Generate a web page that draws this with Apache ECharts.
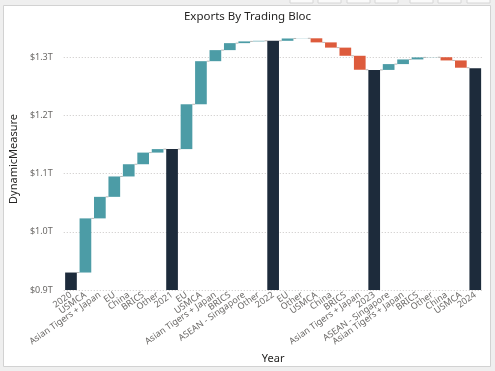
<!DOCTYPE html>
<html><head><meta charset="utf-8">
<script src="https://cdn.jsdelivr.net/npm/echarts@6/dist/echarts.min.js"></script>
<style>html,body{margin:0;padding:0;background:#efefef}#c{width:495px;height:371px}</style>
</head><body><div id="c"></div>
<script>
const categories = ['2020','USMCA','Asian Tigers + Japan','EU','China','BRICS','Other','2021','EU','USMCA','Asian Tigers + Japan','BRICS','ASEAN - Singapore','Other','2022','EU','Other','USMCA','China','BRICS','Asian Tigers + Japan','2023','ASEAN - Singapore','Asian Tigers + Japan','BRICS','Other','China','USMCA','2024'];
const barKinds = ['total','delta','delta','delta','delta','delta','delta','total','delta','delta','delta','delta','delta','delta','total','delta','delta','delta','delta','delta','delta','total','delta','delta','delta','delta','delta','delta','total'];
// totals (year bars) and changes, in trillions of dollars
const amounts = [0.930,0.093,0.037,0.035,0.021,0.020,0.006,1.142,0.077,0.074,0.019,0.012,0.003,0.001,1.328,0.004,0.0003,-0.007,-0.009,-0.014,-0.024,1.278,0.010,0.008,0.0035,0.0003,-0.0055,-0.0125,1.281];
const yTicks = [0.9,1.0,1.1,1.2,1.3];

const baseVals=[], upVals=[], downVals=[], totalVals=[], connectors=[];
let level = 0;
amounts.forEach((a,i)=>{
  if (barKinds[i]==='total'){
    baseVals.push(0); upVals.push('-'); downVals.push('-'); totalVals.push(a); level=a;
  } else {
    const end = level + a;
    baseVals.push(Math.min(level,end));
    upVals.push(a>0?a:'-'); downVals.push(a<0?-a:'-'); totalVals.push('-');
    level = end;
  }
  if (i < amounts.length-1) connectors.push([i, level]);
});

const chart = echarts.init(document.getElementById('c'), null, {renderer:'canvas'});
const FONT = 'Noto Sans';
const iconRects = [290,318,347,375,410,438,467].map(x=>({type:'rect',shape:{x:x,y:-2,width:23,height:5},style:{fill:'#fafafa',stroke:'#d6d6d6',lineWidth:1},z:-1}));
chart.setOption({
  backgroundColor:'#efefef',
  animation:false,
  graphic:[
    {type:'rect',shape:{x:3.5,y:5.5,width:487,height:361},style:{fill:'#ffffff',stroke:'#d2d2d2',lineWidth:1},z:-2},
    ...iconRects
  ],
  title:{text:'Exports By Trading Bloc',left:'center',top:6,textStyle:{fontFamily:FONT,fontSize:11.5,fontWeight:'normal',color:'#252423'}},
  grid:{left:52,right:12.5,top:28,bottom:81,containLabel:false},
  xAxis:{type:'category',data:categories,name:'Year',nameLocation:'middle',nameGap:63,
    nameTextStyle:{fontFamily:FONT,fontSize:11,color:'#252423'},
    axisLine:{show:false},axisTick:{show:false},
    axisLabel:{interval:0,rotate:35,fontFamily:FONT,fontSize:9,color:'#6b6967',margin:4}},
  yAxis:{type:'value',min:0.9,max:1.35,interval:0.1,name:'DynamicMeasure',nameLocation:'middle',nameGap:36,
    nameTextStyle:{fontFamily:FONT,fontSize:11,color:'#252423'},
    axisLine:{show:false},axisTick:{show:false},splitLine:{show:false},
    axisLabel:{showMaxLabel:false,fontFamily:FONT,fontSize:9,color:'#6b6967',margin:11,formatter:v=>'$'+v.toFixed(1)+'T'}},
  series:[
    {type:'bar',stack:'wf',data:baseVals,barWidth:'81%',clip:true,z:1,itemStyle:{color:'rgba(0,0,0,0)'},
     markLine:{silent:true,symbol:'none',z:0,label:{show:false},lineStyle:{type:[1,2],color:'#c8c6c4',width:1},data:yTicks.map(v=>({yAxis:v}))}},
    {type:'bar',stack:'wf',data:upVals,clip:true,z:3,itemStyle:{color:'#4c9ca6'}},
    {type:'bar',stack:'wf',data:downVals,clip:true,z:3,itemStyle:{color:'#dd5b3c'}},
    {type:'bar',stack:'wf',data:totalVals,clip:true,z:3,itemStyle:{color:'#1d2b3b'}},
    {type:'custom',z:2,data:connectors,renderItem:(params,api)=>{
      const i=api.value(0), lv=api.value(1);
      const p0=api.coord([i,lv]), p1=api.coord([i+1,lv]);
      const w=api.size([1,0])[0]*0.405;
      return {type:'line',shape:{x1:p0[0]+w,y1:p0[1],x2:p1[0]-w,y2:p1[1]},style:{stroke:'#b8b6b4',lineWidth:1}};
    }}
  ]
});
</script></body></html>
